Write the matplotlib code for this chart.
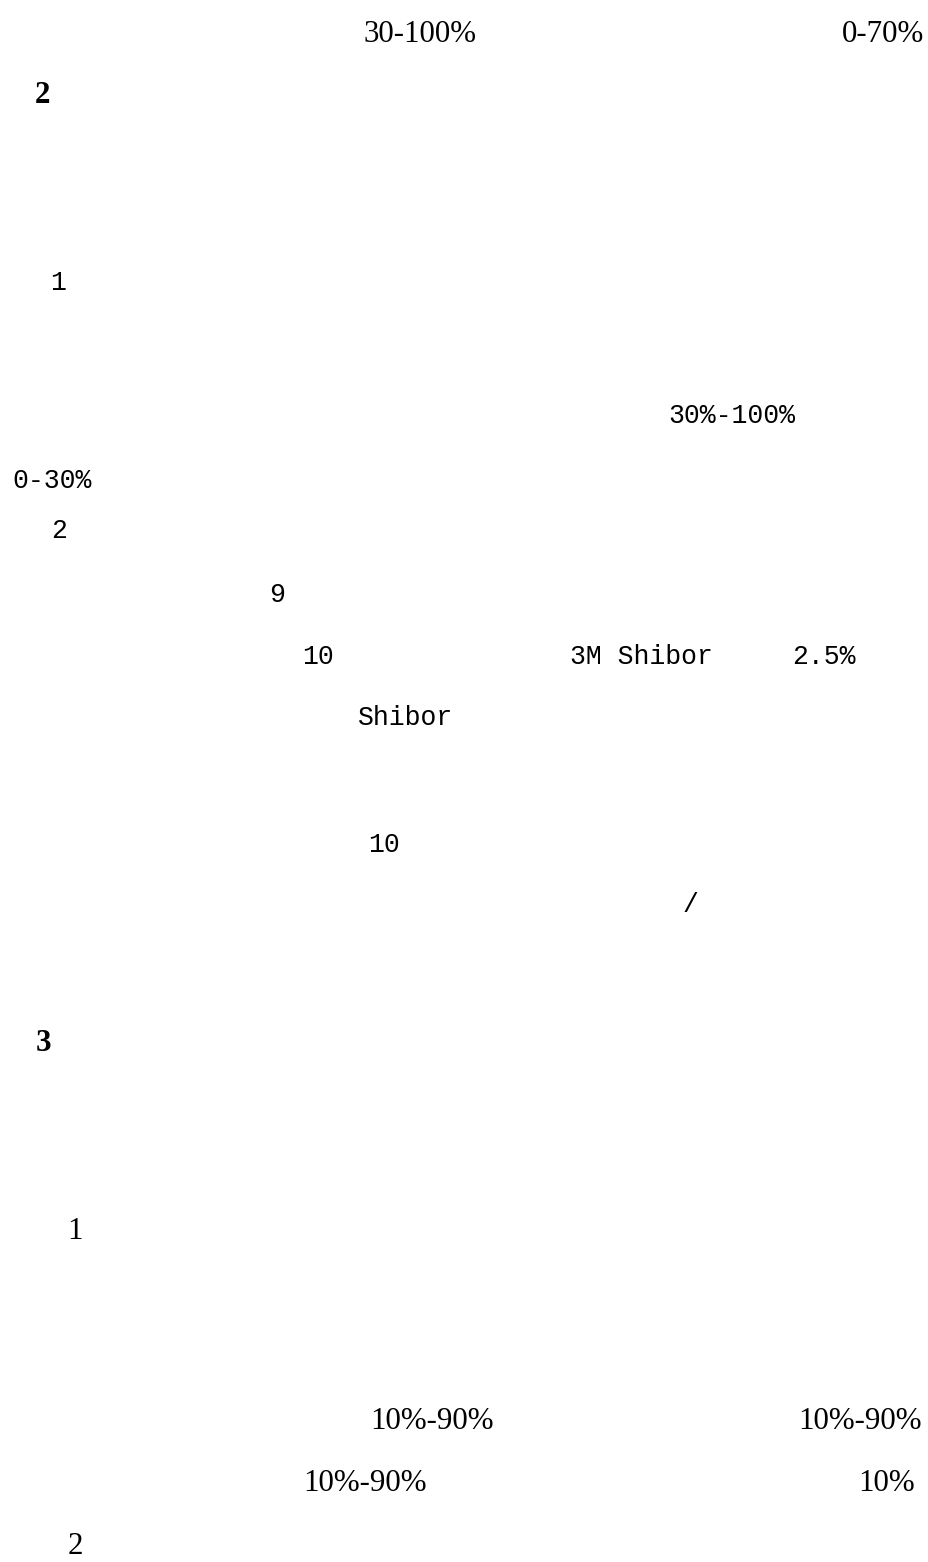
import matplotlib
matplotlib.use("Agg")
import matplotlib.pyplot as plt

# ---- text content (data) ----
serif_texts = ["30-100%", "0-70%", "1", "10%-90%", "10%-90%", "10%-90%", "10%", "2"]
bold_texts = ["2", "3"]
mono_texts = ["1", "30%-100%", "0-30%", "2", "9", "10", "3M Shibor", "2.5%", "Shibor", "10", "/"]

# ---- layout (pixel positions: centre x, baseline y) ----
W, H = 929, 1562
serif_pos = [(420, 42), (883, 42), (75.5, 1239), (432, 1429), (860.5, 1429),
             (365, 1491), (886.5, 1491), (75.5, 1554)]
bold_pos = [(43, 103), (43.5, 1051)]
mono_pos = [(58.5, 290), (732, 423), (52.5, 488), (59, 538), (277, 602),
            (318, 664), (641, 664), (824, 664), (406, 725), (384, 852), (690, 912)]

PX = 72.0 / 100.0           # points per pixel at dpi 100
FS = 31 * PX                # ~31 px em
MONO_FS = 26.5 * PX         # ~15.9 px cell pitch

fig = plt.figure(figsize=(W / 100, H / 100), dpi=100)
fig.patch.set_facecolor("white")
ax = fig.add_axes([0, 0, 1, 1])
ax.set_xlim(0, W)
ax.set_ylim(H, 0)
ax.axis("off")

for s, (x, y) in zip(serif_texts, serif_pos):
    ax.text(x, y, s, ha="center", va="baseline", fontsize=FS,
            family=["Liberation Serif", "DejaVu Serif"], color="black")

for s, (x, y) in zip(bold_texts, bold_pos):
    ax.text(x, y, s, ha="center", va="baseline", fontsize=FS, fontweight="bold",
            family=["Liberation Serif", "DejaVu Serif"], color="black")

for s, (x, y) in zip(mono_texts, mono_pos):
    ax.text(x, y, s, ha="center", va="baseline", fontsize=MONO_FS,
            family=["Liberation Mono", "DejaVu Sans Mono"], color="black")

fig.savefig("out.png", dpi=100, facecolor="white")
